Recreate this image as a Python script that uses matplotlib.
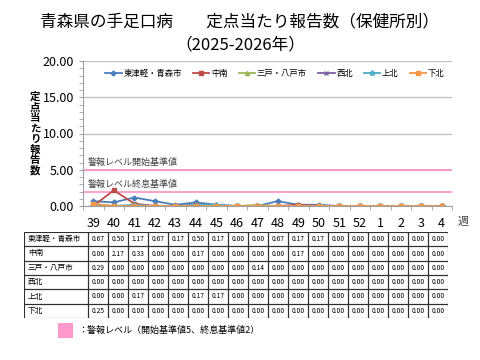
import numpy as np
import matplotlib.pyplot as plt
from matplotlib.patches import Rectangle

plt.rcParams['font.family'] = ['Noto Sans CJK JP', 'DejaVu Sans']

# data
weeks = ['39', '40', '41', '42', '43', '44', '45', '46', '47', '48', '49', '50', '51', '52', '1', '2', '3', '4']
areas = ['東津軽・青森市', '中南', '三戸・八戸市', '西北', '上北', '下北']
higashi_tsugaru = [0.67, 0.50, 1.17, 0.67, 0.17, 0.50, 0.17, 0.00, 0.00, 0.67, 0.17, 0.17, 0.00, 0.00, 0.00, 0.00, 0.00, 0.00]
chunan = [0.00, 2.17, 0.33, 0.00, 0.00, 0.17, 0.00, 0.00, 0.00, 0.00, 0.17, 0.00, 0.00, 0.00, 0.00, 0.00, 0.00, 0.00]
sannohe = [0.29, 0.00, 0.00, 0.00, 0.00, 0.00, 0.00, 0.00, 0.14, 0.00, 0.00, 0.00, 0.00, 0.00, 0.00, 0.00, 0.00, 0.00]
seihoku = [0.00] * 18
kamikita = [0.00, 0.00, 0.17, 0.00, 0.00, 0.17, 0.17, 0.00, 0.00, 0.00, 0.00, 0.00, 0.00, 0.00, 0.00, 0.00, 0.00, 0.00]
shimokita = [0.25, 0.00, 0.00, 0.00, 0.00, 0.00, 0.00, 0.00, 0.00, 0.00, 0.00, 0.00, 0.00, 0.00, 0.00, 0.00, 0.00, 0.00]
series = [higashi_tsugaru, chunan, sannohe, seihoku, kamikita, shimokita]
alert_start = 5
alert_end = 2

colors = ['#4A7EBB', '#BE4B48', '#98B954', '#7D60A0', '#4BACC6', '#F79646']
markers = ['D', 's', '^', 'x', '*', 's']
msizes = [2.5, 3, 3, 3.5, 4, 3.5]

fig = plt.figure(figsize=(4.8, 3.6), dpi=100)

W, H = 480, 360
def fx(px):
    return px / W
def fy(py):
    return 1 - py / H

fig.text(0.5, fy(22), '青森県の手足口病　　定点当たり報告数（保健所別）', ha='center', va='center', fontsize=12)
fig.text(0.5, fy(45), '（2025-2026年）', ha='center', va='center', fontsize=12)

ax = fig.add_axes([fx(83), fy(206), fx(452 - 83), (206 - 61) / H])
x = np.arange(len(weeks))
for vals, name, c, m, ms in zip(series, areas, colors, markers, msizes):
    ax.plot(x, vals, color=c, marker=m, markersize=ms, linewidth=1.3, label=name)

ax.axhline(alert_start, color='#FF8FC8', linewidth=1.2, zorder=1)
ax.axhline(alert_end, color='#FF8FC8', linewidth=1.2, zorder=1)
ax.text(-0.25, alert_start + 0.4, '警報レベル開始基準値', fontsize=6.5, color='#404040', va='bottom')
ax.text(-0.25, alert_end + 0.4, '警報レベル終息基準値', fontsize=6.5, color='#404040', va='bottom')

ax.set_xlim(-0.5, len(weeks) - 0.5)
ax.set_ylim(0, 20)
ax.set_yticks([0, 5, 10, 15, 20])
ax.set_yticks(np.arange(0, 20, 1), minor=True)
ax.set_yticklabels(['%.2f' % v for v in [0, 5, 10, 15, 20]], fontsize=9)
ax.yaxis.grid(True, color='#BFBFBF', linewidth=0.9)
ax.set_axisbelow(True)
ax.set_xticks(x)
ax.set_xticklabels(weeks, fontsize=9)
ax.set_xticks(np.arange(-0.5, len(weeks), 1), minor=True)
ax.tick_params(axis='x', which='major', length=0, pad=8)
ax.tick_params(axis='x', which='minor', length=3, color='#A0A0A0')
ax.tick_params(axis='y', which='both', color='#A0A0A0', length=3)
for s in ['top', 'right']:
    ax.spines[s].set_visible(False)
ax.spines['left'].set_color('#A0A0A0')
ax.spines['bottom'].set_color('#A0A0A0')

fig.text(fx(458), fy(222), '週', fontsize=8, va='center', ha='left', color='#404040')

# vertical y label, one character per line
ylabel = '定点当たり報告数'
for i, ch in enumerate(ylabel):
    fig.text(fx(35), fy(97 + i * 10.5), ch, fontsize=7.5, ha='center', va='center', fontweight='bold')

ax.legend(loc='upper center', ncol=6, frameon=False, fontsize=6, handlelength=2.0,
          columnspacing=1.3, handletextpad=0.2, bbox_to_anchor=(0.52, 1.0))

# table
tx0, ty0, tx1, ty1 = 24, 232, 448, 318
tax = fig.add_axes([fx(tx0), fy(ty1), fx(tx1 - tx0), (ty1 - ty0) / H])
tax.set_xlim(tx0, tx1)
tax.set_ylim(ty1, ty0)
tax.axis('off')
label_w = 64
col_w = (tx1 - tx0 - label_w) / len(weeks)
row_h = (ty1 - ty0) / len(areas)
for r, (name, vals) in enumerate(zip(areas, series)):
    y0 = ty0 + r * row_h
    tax.add_patch(Rectangle((tx0, y0), label_w, row_h, fill=False, edgecolor='#303030', linewidth=0.8))
    tax.text(tx0 + 4, y0 + row_h / 2, name, fontsize=5.5, va='center', ha='left')
    for c, v in enumerate(vals):
        cx = tx0 + label_w + c * col_w
        tax.add_patch(Rectangle((cx, y0), col_w, row_h, fill=False, edgecolor='#303030', linewidth=0.8))
        tax.text(cx + col_w / 2, y0 + row_h / 2, '%.2f' % v, fontsize=4.8, va='center', ha='center')

# alert legend
fig.patches.append(Rectangle((fx(58), fy(338)), fx(15), 15 / H, transform=fig.transFigure,
                             facecolor='#FF99CC', edgecolor='none'))
fig.text(fx(78), fy(330), '：警報レベル（開始基準値5、終息基準値2）', fontsize=6.5, va='center', ha='left')

fig.savefig('out.png', dpi=100)
